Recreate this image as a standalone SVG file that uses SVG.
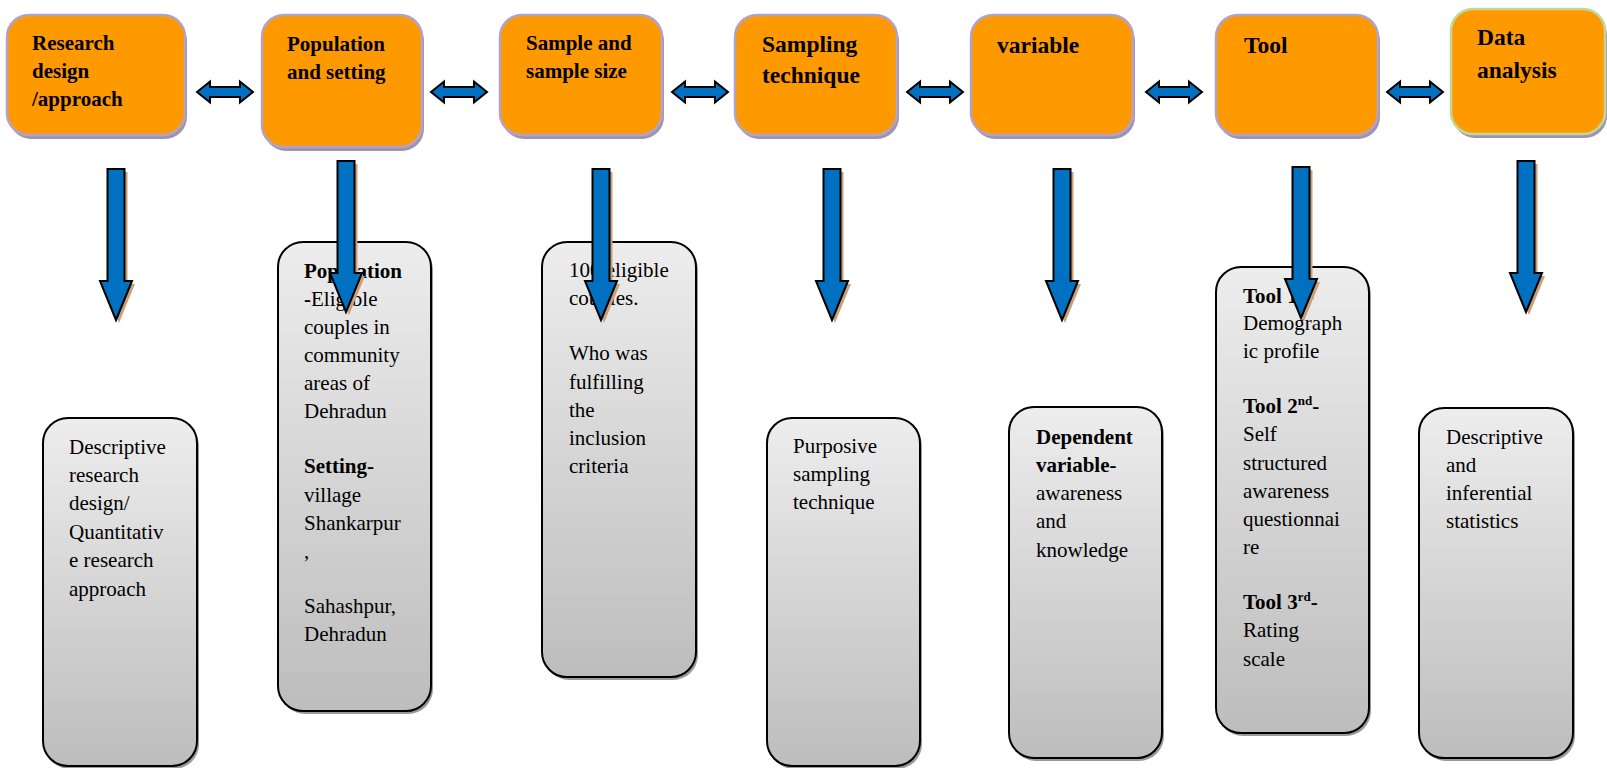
<svg xmlns="http://www.w3.org/2000/svg" width="1607" height="768" viewBox="0 0 1607 768">
<defs>
<linearGradient id="g" x1="0" y1="0" x2="0" y2="1">
<stop offset="0" stop-color="#ededed"/>
<stop offset="1" stop-color="#bdbdbd"/>
</linearGradient>
<path id="down" d="M-8.5,0 H8.5 V112 H16 L0,151 L-16,112 H-8.5 Z"/>
<path id="dbl" d="M0,0 L13,-10.5 V-5 H43 V-10.5 L56,0 L43,10.5 V5 H13 V10.5 Z"/>
</defs>
<style>
.top{fill:#ff9900;stroke:#b3a2c7;stroke-width:2.5}
.topg{fill:#ff9900;stroke:#c3d69b;stroke-width:2.5}
.tsh{fill:#9d94ad}
.bot{fill:url(#g);stroke:#000;stroke-width:2}
.bsh{fill:#9a9a9a}
.h{font-family:"Liberation Serif","Times New Roman",serif;font-weight:bold;font-size:21px;fill:#000}
.hl{font-family:"Liberation Serif","Times New Roman",serif;font-weight:bold;font-size:23.5px;fill:#000}
.b{font-family:"Liberation Serif","Times New Roman",serif;font-size:21px;fill:#000}
.bold{font-weight:bold}
.sup{font-size:13px}
.arr{fill:#0070c0;stroke:#000;stroke-width:2;stroke-linejoin:miter}
.ash{fill:#c9a07a}
</style>
<rect width="1607" height="768" fill="#fff"/>

<g id="box-research-design">
<rect class="tsh" x="9" y="19" width="178" height="120" rx="22"/>
<rect class="top" x="7" y="15" width="178" height="120" rx="22"/>
<text class="h"><tspan x="32" y="50">Research</tspan><tspan x="32" y="78">design</tspan><tspan x="32" y="106">/approach</tspan></text>
</g>
<g id="box-population">
<rect class="tsh" x="264" y="19" width="160" height="132" rx="22"/>
<rect class="top" x="262" y="15" width="160" height="132" rx="22"/>
<text class="h"><tspan x="287" y="51">Population</tspan><tspan x="287" y="79">and setting</tspan></text>
</g>
<g id="box-sample">
<rect class="tsh" x="502" y="19" width="162" height="120" rx="22"/>
<rect class="top" x="500" y="15" width="162" height="120" rx="22"/>
<text class="h"><tspan x="526" y="50">Sample and</tspan><tspan x="526" y="78">sample size</tspan></text>
</g>
<g id="box-sampling">
<rect class="tsh" x="737" y="19" width="162" height="120" rx="22"/>
<rect class="top" x="735" y="15" width="162" height="120" rx="22"/>
<text class="hl"><tspan x="762" y="52">Sampling</tspan><tspan x="762" y="83">technique</tspan></text>
</g>
<g id="box-variable">
<rect class="tsh" x="973" y="19" width="162" height="120" rx="22"/>
<rect class="top" x="971" y="15" width="162" height="120" rx="22"/>
<text class="hl"><tspan x="997" y="53">variable</tspan></text>
</g>
<g id="box-tool">
<rect class="tsh" x="1218" y="19" width="162" height="120" rx="22"/>
<rect class="top" x="1216" y="15" width="162" height="120" rx="22"/>
<text class="hl"><tspan x="1244" y="53">Tool</tspan></text>
</g>
<g id="box-data-analysis">
<rect class="tsh" x="1453" y="13" width="154" height="125" rx="22"/>
<rect class="topg" x="1451" y="9" width="154" height="125" rx="22"/>
<text class="hl"><tspan x="1477" y="45">Data</tspan><tspan x="1477" y="78">analysis</tspan></text>
</g>

<g id="detail-research">
<rect class="bsh" x="45" y="421" width="154" height="348" rx="25"/>
<rect class="bot" x="43" y="418" width="154" height="348" rx="25"/>
<text class="b"><tspan x="69" y="454">Descriptive</tspan><tspan x="69" y="482">research</tspan><tspan x="69" y="510">design/</tspan><tspan x="69" y="539">Quantitativ</tspan><tspan x="69" y="567">e research</tspan><tspan x="69" y="596">approach</tspan></text>
</g>
<g id="detail-population">
<rect class="bsh" x="280" y="245" width="153" height="469" rx="25"/>
<rect class="bot" x="278" y="242" width="153" height="469" rx="25"/>
<text class="b"><tspan x="304" y="278" class="bold">Population</tspan><tspan x="304" y="306"><tspan class="bold">-</tspan>Eligible</tspan><tspan x="304" y="334">couples in</tspan><tspan x="304" y="362">community</tspan><tspan x="304" y="390">areas of</tspan><tspan x="304" y="418">Dehradun</tspan><tspan x="304" y="473" class="bold">Setting-</tspan><tspan x="304" y="502">village</tspan><tspan x="304" y="530">Shankarpur</tspan><tspan x="304" y="558">,</tspan><tspan x="304" y="613">Sahashpur,</tspan><tspan x="304" y="641">Dehradun</tspan></text>
</g>
<g id="detail-sample">
<rect class="bsh" x="544" y="245" width="154" height="435" rx="25"/>
<rect class="bot" x="542" y="242" width="154" height="435" rx="25"/>
<text class="b"><tspan x="569" y="277">100 eligible</tspan><tspan x="569" y="305">couples.</tspan><tspan x="569" y="360">Who was</tspan><tspan x="569" y="389">fulfilling</tspan><tspan x="569" y="417">the</tspan><tspan x="569" y="445">inclusion</tspan><tspan x="569" y="473">criteria</tspan></text>
</g>
<g id="detail-sampling">
<rect class="bsh" x="769" y="421" width="153" height="348" rx="25"/>
<rect class="bot" x="767" y="418" width="153" height="348" rx="25"/>
<text class="b"><tspan x="793" y="453">Purposive</tspan><tspan x="793" y="481">sampling</tspan><tspan x="793" y="509">technique</tspan></text>
</g>
<g id="detail-variable">
<rect class="bsh" x="1011" y="410" width="153" height="351" rx="25"/>
<rect class="bot" x="1009" y="407" width="153" height="351" rx="25"/>
<text class="b"><tspan x="1036" y="444" class="bold">Dependent</tspan><tspan x="1036" y="472" class="bold">variable-</tspan><tspan x="1036" y="500">awareness</tspan><tspan x="1036" y="528">and</tspan><tspan x="1036" y="557">knowledge</tspan></text>
</g>
<g id="detail-tool">
<rect class="bsh" x="1218" y="270" width="153" height="466" rx="25"/>
<rect class="bot" x="1216" y="267" width="153" height="466" rx="25"/>
<text class="b"><tspan x="1243" y="303" class="bold">Tool 1<tspan class="sup" dy="-8">st</tspan><tspan dy="8">-</tspan></tspan><tspan x="1243" y="330">Demograph</tspan><tspan x="1243" y="358">ic profile</tspan><tspan x="1243" y="413" class="bold">Tool 2<tspan class="sup" dy="-8">nd</tspan><tspan dy="8">-</tspan></tspan><tspan x="1243" y="441">Self</tspan><tspan x="1243" y="470">structured</tspan><tspan x="1243" y="498">awareness</tspan><tspan x="1243" y="526">questionnai</tspan><tspan x="1243" y="554">re</tspan><tspan x="1243" y="609" class="bold">Tool 3<tspan class="sup" dy="-8">rd</tspan><tspan dy="8">-</tspan></tspan><tspan x="1243" y="637">Rating</tspan><tspan x="1243" y="666">scale</tspan></text>
</g>
<g id="detail-data">
<rect class="bsh" x="1421" y="411" width="154" height="350" rx="25"/>
<rect class="bot" x="1419" y="408" width="154" height="350" rx="25"/>
<text class="b"><tspan x="1446" y="444">Descriptive</tspan><tspan x="1446" y="472">and</tspan><tspan x="1446" y="500">inferential</tspan><tspan x="1446" y="528">statistics</tspan></text>
</g>

<g id="connectors">
<use href="#dbl" class="arr" transform="translate(197,92)"/>
<use href="#dbl" class="arr" transform="translate(431,92)"/>
<use href="#dbl" class="arr" transform="translate(672,92)"/>
<use href="#dbl" class="arr" transform="translate(907,92)"/>
<use href="#dbl" class="arr" transform="translate(1146,92)"/>
<use href="#dbl" class="arr" transform="translate(1387,92)"/>

<use href="#down" class="ash" transform="translate(119,172)"/>
<use href="#down" class="arr" transform="translate(116,169)"/>
<use href="#down" class="ash" transform="translate(349,164)"/>
<use href="#down" class="arr" transform="translate(346,161)"/>
<use href="#down" class="ash" transform="translate(604,172)"/>
<use href="#down" class="arr" transform="translate(601,169)"/>
<use href="#down" class="ash" transform="translate(835,172)"/>
<use href="#down" class="arr" transform="translate(832,169)"/>
<use href="#down" class="ash" transform="translate(1065,172)"/>
<use href="#down" class="arr" transform="translate(1062,169)"/>
<use href="#down" class="ash" transform="translate(1304,170)"/>
<use href="#down" class="arr" transform="translate(1301,167)"/>
<use href="#down" class="ash" transform="translate(1529,164)"/>
<use href="#down" class="arr" transform="translate(1526,161)"/>
</g>
</svg>
